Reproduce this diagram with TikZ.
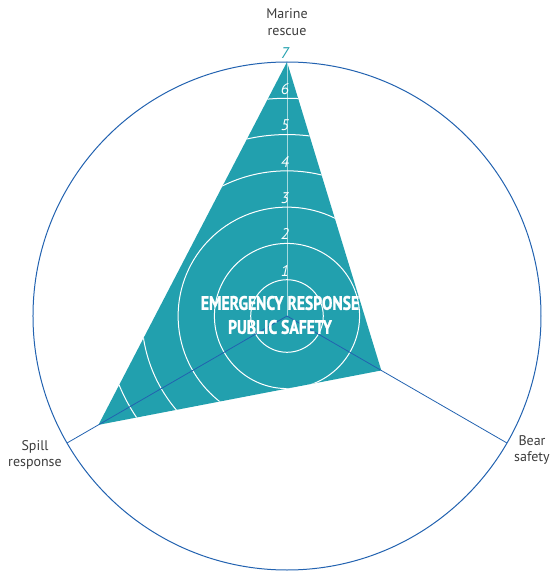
\documentclass[tikz,border=0pt]{standalone}
\usepackage{fontspec}
\setmainfont{PT Sans}
\newfontfamily\condfont[FakeStretch=0.8, FakeBold=1.2]{PT Sans}
\usetikzlibrary{positioning}
\definecolor{radarteal}{HTML}{22A0AE}
\definecolor{axisblue}{HTML}{2262B0}
\definecolor{labelgray}{HTML}{3C3C3C}
\tikzset{%
   axis/.style={draw=axisblue, line width=0.8pt},
   ring/.style={draw=white, line width=1pt},
   axislabel/.style={align=center, text=labelgray, inner sep=1pt, font=\fontsize{14}{16.5}\selectfont},
   score/.style={inner sep=0pt, text=white, font=\fontsize{15.5}{15.5}\selectfont\itshape},
}
\begin{document}
\begin{tikzpicture}[x=1pt, y=1pt]
         \useasboundingbox (-287,-255) rectangle (266,316);
         \def\R{254}
         \def\U{36.29}
         \coordinate (c) at (0,0);
         \coordinate (mr) at (90:\R);
         \coordinate (bs) at (-30:\R);
         \coordinate (sr) at (210:\R);
         \coordinate (bsv) at (-30:108.9);
         \coordinate (srv) at (210:217.7);
         % filled area
         \fill[radarteal] (mr) -- (bsv) -- (srv) -- cycle;
         \begin{scope}
            \clip (mr) -- (bsv) -- (srv) -- cycle;
            \foreach \k in {1,...,6}
               \draw[ring] (c) circle ({\k*\U});
         \end{scope}
         \draw[white, opacity=0.6, line width=0.6pt] (c) -- (mr);
         \draw[axis] (c) -- (bs);
         \draw[axis] (c) -- (sr);
         \draw[axis, line width=1pt] (c) circle (\R);
         % scale
         \foreach \k in {1,...,6}
            \node[score] (s\k) at (-2, {\k*\U+9}) {\k};
         \node[score, text=radarteal] (s7) at (-2, \R+9) {7};
         % labels
         \node[axislabel] (lmr) at (0,294) {Marine\\rescue};
         \node[axislabel] (lbs) at (245,-134) {Bear\\safety};
         \node[axislabel] (lsr) at (-252,-139) {Spill\\response};
         \node[align=center, text=white, inner sep=0pt, font=\condfont\bfseries\fontsize{19.5}{24}\selectfont] (ers) at (-7,1) {EMERGENCY RESPONSE\\PUBLIC SAFETY};
      \end{tikzpicture}
\end{document}
